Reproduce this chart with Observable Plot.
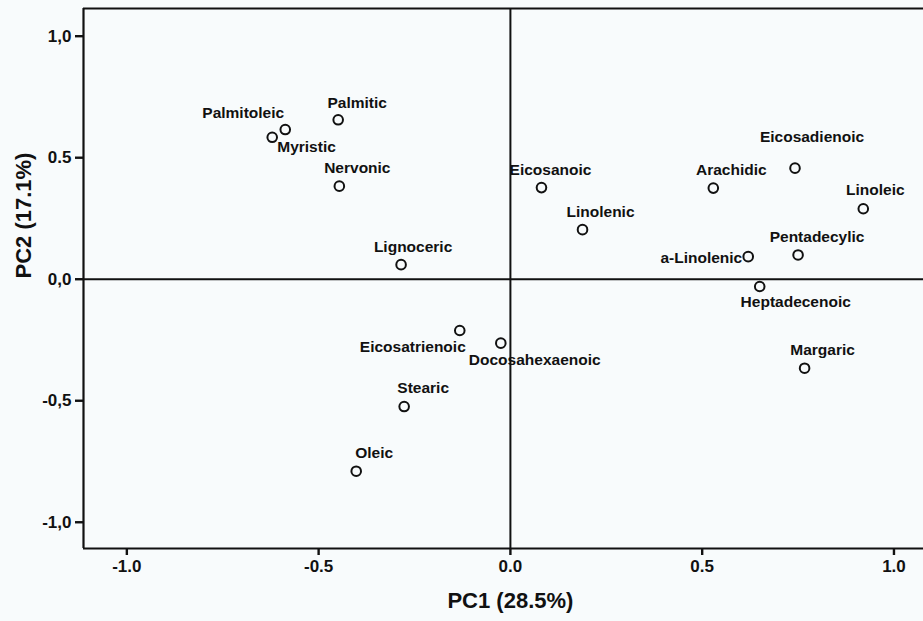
<!DOCTYPE html>
<html>
<head>
<meta charset="utf-8">
<script src="https://cdn.jsdelivr.net/npm/d3@7"></script>
<script src="https://cdn.jsdelivr.net/npm/@observablehq/plot@0.6"></script>
<style>
  html, body { margin: 0; padding: 0; background: #f8fbfc; overflow: hidden; }
  #chart svg { display: block; }
</style>
</head>
<body>
<div id="chart"></div>
<script>
// ---- data ----
const names = ["Palmitoleic","Myristic","Palmitic","Nervonic","Lignoceric","Eicosatrienoic","Docosahexaenoic","Stearic","Oleic","Eicosanoic","Linolenic","Arachidic","Eicosadienoic","Linoleic","Pentadecylic","a-Linolenic","Heptadecenoic","Margaric"];
const pc1 = [-0.621,-0.587,-0.449,-0.446,-0.285,-0.132,-0.025,-0.277,-0.402,0.081,0.188,0.529,0.742,0.920,0.750,0.620,0.650,0.767];
const pc2 = [0.584,0.616,0.656,0.383,0.060,-0.211,-0.263,-0.524,-0.790,0.377,0.204,0.375,0.457,0.290,0.100,0.093,-0.030,-0.366];
const xTicks = [-1, -0.5, 0, 0.5, 1];
const xTickLabels = ["-1.0", "-0.5", "0.0", "0.5", "1.0"];
const yTicks = [1, 0.5, 0, -0.5, -1];
const yTickLabels = ["1,0", "0.5", "0,0", "-0,5", "-1,0"];
const xTitle = "PC1 (28.5%)";
const yTitle = "PC2 (17.1%)";

// ---- layout (label nudges: [dx, dy, anchor]) ----
const labelNudge = {
  "Palmitoleic": [-29, -24, "middle"],
  "Myristic": [-8, 18, "start"],
  "Palmitic": [19, -17, "middle"],
  "Nervonic": [18, -18, "middle"],
  "Lignoceric": [12, -18, "middle"],
  "Eicosatrienoic": [6, 17, "end"],
  "Docosahexaenoic": [-32, 17, "start"],
  "Stearic": [19, -19, "middle"],
  "Oleic": [18, -18, "middle"],
  "Eicosanoic": [9, -18, "middle"],
  "Linolenic": [18, -18, "middle"],
  "Arachidic": [18, -18, "middle"],
  "Eicosadienoic": [17, -31, "middle"],
  "Linoleic": [12, -19, "middle"],
  "Pentadecylic": [19, -18, "middle"],
  "a-Linolenic": [-6, 1, "end"],
  "Heptadecenoic": [36, 16, "middle"],
  "Margaric": [18, -18, "middle"]
};
const xDomain = [-1.113, 1.077];
const yDomain = [-1.108, 1.114];
const idx = names.map((_, i) => i);
const font = "'Liberation Sans', Arial, sans-serif";
const ink = "#111";

const labelMarks = idx.map(i => {
  const [dx, dy, anchor] = labelNudge[names[i]];
  return Plot.text([i], {
    x: j => pc1[j], y: j => pc2[j], text: j => names[j],
    dx, dy, textAnchor: anchor,
    fontSize: 15.5, fontWeight: "bold", fill: ink
  });
});

const chart = Plot.plot({
  width: 923,
  height: 621,
  marginLeft: 83,
  marginTop: 8,
  marginBottom: 73,
  marginRight: 0,
  style: { background: "#f8fbfc", fontFamily: font, color: ink, overflow: "visible" },
  x: { domain: xDomain, axis: null },
  y: { domain: yDomain, axis: null },
  marks: [
    // frame (top, bottom, left)
    Plot.ruleY([yDomain[1], yDomain[0]], { stroke: ink, strokeWidth: 2.2 }),
    Plot.ruleX([xDomain[0]], { stroke: ink, strokeWidth: 2.2 }),
    // zero reference lines
    Plot.ruleX([0], { stroke: ink, strokeWidth: 2 }),
    Plot.ruleY([0], { stroke: ink, strokeWidth: 2 }),
    // axis tick lines
    Plot.axisX({ ticks: xTicks, tickFormat: () => "", tickSize: 7, strokeWidth: 2.4, label: null, anchor: "bottom", stroke: ink }),
    Plot.axisY({ ticks: yTicks, tickFormat: () => "", tickSize: 8, strokeWidth: 2.4, label: null, anchor: "left", stroke: ink }),
    // axis tick labels
    Plot.text(xTicks, { x: d => d, frameAnchor: "bottom", dy: 23, text: (d, i) => xTickLabels[i],
      fontSize: 17, fontWeight: "bold", fill: ink }),
    Plot.text(yTicks, { y: d => d, frameAnchor: "left", dx: -12, textAnchor: "end", text: (d, i) => yTickLabels[i],
      fontSize: 17, fontWeight: "bold", fill: ink }),
    // points
    Plot.dot(idx, { x: i => pc1[i], y: i => pc2[i], r: 4.8, stroke: ink, strokeWidth: 2, fill: "none" }),
    ...labelMarks,
    // axis titles
    Plot.text([0], { x: d => d, frameAnchor: "bottom", dy: 59, text: () => xTitle,
      fontSize: 22, fontWeight: "bold", fill: ink }),
    Plot.text([0], { frameAnchor: "left", dx: -60, rotate: -90, text: () => yTitle,
      fontSize: 22, fontWeight: "bold", fill: ink })
  ]
});
document.getElementById("chart").append(chart);
</script>
</body>
</html>
